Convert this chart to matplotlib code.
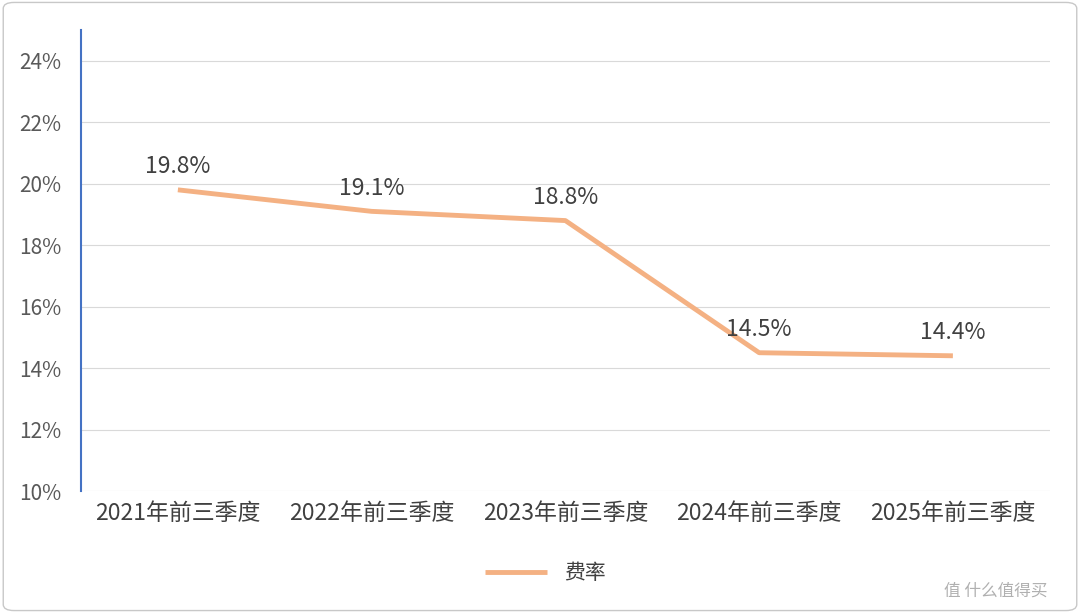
import matplotlib
matplotlib.use("Agg")
import matplotlib.pyplot as plt
from matplotlib.patches import FancyBboxPatch

plt.rcParams['font.family'] = ['Noto Sans CJK SC', 'DejaVu Sans']

categories = ["2021年前三季度", "2022年前三季度", "2023年前三季度", "2024年前三季度", "2025年前三季度"]
rates = [19.8, 19.1, 18.8, 14.5, 14.4]
yticks = [10, 12, 14, 16, 18, 20, 22, 24]
series_name = "费率"

fig = plt.figure(figsize=(10.8, 6.13), dpi=100)
fig.patches.append(FancyBboxPatch((0.003, 0.004), 0.994, 0.992, boxstyle="round,pad=0,rounding_size=0.01",
                                  transform=fig.transFigure, fill=False, ec="#c8c8c8", lw=1))
ax = fig.add_axes([0.075, 0.199, 0.897, 0.752])
x = list(range(len(categories)))
line, = ax.plot(x, rates, color="#F4B183", lw=3.5, solid_capstyle="butt", label=series_name)
for xi, v in zip(x, rates):
    ax.annotate(f"{v}%", (xi, v), xytext=(0, 23), textcoords="offset pixels",
                ha="center", va="center", fontsize=16.5, color="#404040")
ax.set_xlim(-0.5, 4.5)
ax.set_ylim(10, 25)
ax.set_yticks(yticks)
ax.set_yticklabels([f"{t}%" for t in yticks], fontsize=15, color="#595959")
ax.set_xticks(x)
ax.set_xticklabels(categories, fontsize=16.5, color="#404040")
ax.tick_params(length=0, pad=8)
ax.tick_params(axis="y", pad=14)
for t in yticks:
    ax.axhline(t, color="#d9d9d9", lw=0.8, zorder=0)
for s in ["top", "right", "bottom"]:
    ax.spines[s].set_visible(False)
ax.spines["left"].set_color("#4472C4")
ax.spines["left"].set_linewidth(1.5)
fig.legend(handles=[line], loc="center", bbox_to_anchor=(0.505, 0.065), frameon=False,
           fontsize=15, labelcolor="#404040", handlelength=3)
fig.text(0.97, 0.035, "值 什么值得买", ha="right", va="center", fontsize=12, color="#b0b0b0")
fig.savefig("out.png", dpi=100)
